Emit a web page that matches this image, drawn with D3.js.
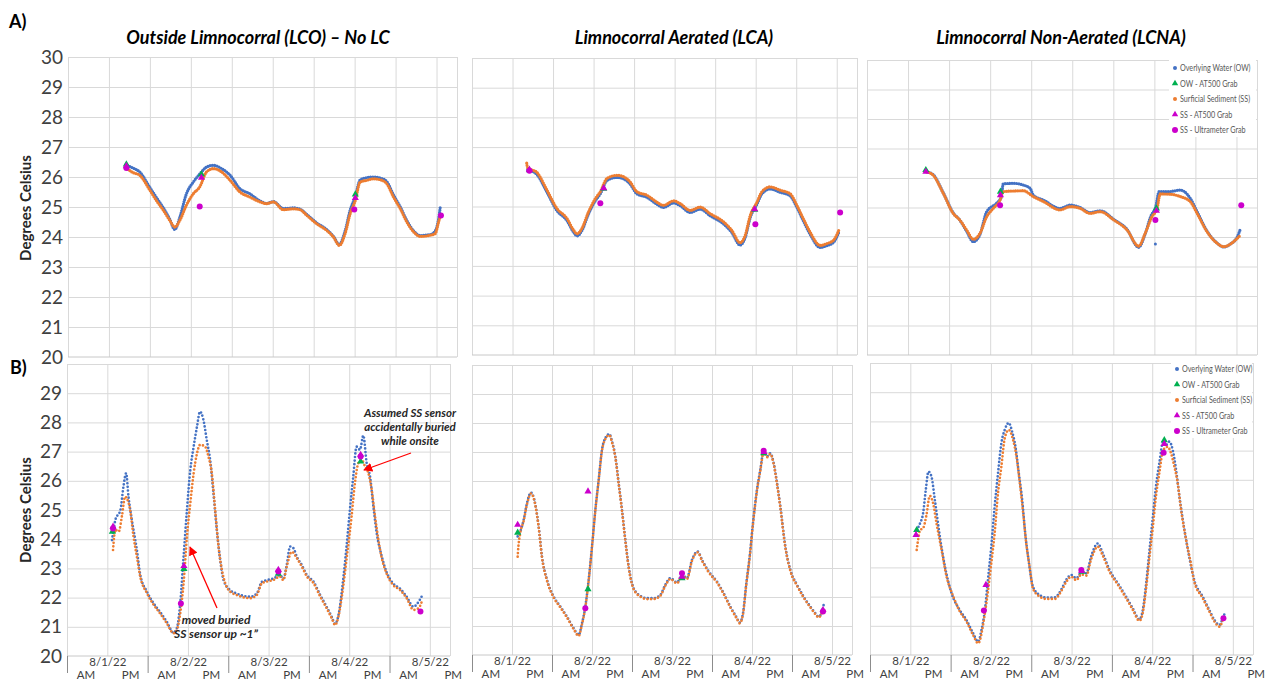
<!DOCTYPE html>
<html>
<head>
<meta charset="utf-8">
<script src="https://cdn.jsdelivr.net/npm/d3@7"></script>
<style>
  body { margin: 0; background: #fff; }
  svg { font-family: Lato, "Open Sans", sans-serif; }
  .grid line { stroke: #d9d9d9; stroke-width: 1; }
  .grid path { display: none; }
</style>
</head>
<body>
<div id="chart"></div>
<script>
// ---- data (hours from 8/1/22 00:00, degrees C) ----
var dayLabels = ["8/1/22", "8/2/22", "8/3/22", "8/4/22", "8/5/22"];
var halfLabels = ["AM", "PM"];
var yTicksTop = [20, 21, 22, 23, 24, 25, 26, 27, 28, 29, 30];
var yTicksBottom = [20, 21, 22, 23, 24, 25, 26, 27, 28, 29];
var panelTitles = ["Outside Limnocorral (LCO) \u2013 No LC", "Limnocorral Aerated (LCA)", "Limnocorral Non-Aerated (LCNA)"];
var legendLabels = ["Overlying Water (OW)", "OW - AT500 Grab", "Surficial Sediment (SS)", "SS - AT500 Grab", "SS - Ultrameter Grab"];

// A) LCO
var a1OW = [[16.9,26.4],[19,26.3],[21,26.17],[24,25.65],[26,25.3],[27.9,24.98],[29.8,24.6],[31.3,24.25],[32.8,24.67],[34.7,25.44],[36.7,25.83],[38.6,26.1],[40.6,26.33],[42.6,26.39],[45,26.28],[47.5,26.06],[50.4,25.61],[53.3,25.44],[56.3,25.2],[58.2,25.12],[60.2,25.18],[63.1,24.95],[66,24.97],[68,24.93],[70,24.75],[72.9,24.47],[75.8,24.25],[77.8,24.02],[79.5,23.75],[81.2,24.2],[82.7,24.9],[84.2,25.35],[85.6,25.9],[87.6,25.98],[89.5,26.0],[92,25.95],[93.4,25.85],[95.4,25.4],[97.4,25.0],[99.3,24.55],[101.3,24.2],[103.2,24.05],[106.2,24.08],[107.6,24.2],[108.6,24.6],[109.1,25.0]];
var a1SS = [[17,26.3],[19,26.15],[21,26.06],[24,25.56],[26,25.2],[27.9,24.9],[29.8,24.56],[31.3,24.33],[32.8,24.56],[34.7,25.06],[36.7,25.44],[38.6,25.67],[40.6,26.17],[42.6,26.28],[45,26.17],[47.5,25.89],[50.4,25.5],[53.3,25.33],[56.3,25.17],[58.2,25.11],[60.2,25.17],[63.1,24.91],[66,24.94],[68,24.91],[70,24.72],[72.9,24.44],[75.8,24.22],[77.8,24.0],[79.5,23.72],[81.2,24.11],[82.7,24.78],[84.2,25.22],[85.6,25.83],[87.6,25.89],[89.5,25.94],[92,25.89],[93.4,25.78],[95.4,25.33],[97.4,24.94],[99.3,24.5],[101.3,24.17],[103.2,24.02],[106.2,24.06],[107.6,24.11],[108.6,24.5],[109.1,24.7]];
var a1OWGrab = [[17.1,26.42],[39.1,26.09],[84.2,25.42]];
var a1SSGrab = [[17.1,26.36],[39.1,25.98],[84.2,25.3]];
var a1Ultra = [[17.1,26.3],[38.6,25.02],[83.9,24.92],[109.3,24.72]];

// A) LCA
var a2OW = [[16.5,26.24],[19.2,26.08],[22.2,25.48],[25.1,24.87],[28.1,24.53],[30.1,24.13],[31.1,24.01],[32.5,24.18],[34.5,24.75],[36.5,25.19],[38,25.43],[40,25.88],[42.9,25.98],[44.9,25.93],[46.8,25.76],[48.8,25.43],[51.8,25.31],[54.7,25.08],[56.7,24.97],[59.7,25.12],[61.6,25.03],[64.6,24.8],[67.6,24.91],[70.5,24.69],[74.5,24.41],[76.9,24.13],[79.4,23.7],[80.9,23.96],[82.4,24.63],[84.4,25.08],[85.8,25.42],[88.3,25.59],[91.2,25.48],[94.2,25.36],[96.2,24.97],[98.1,24.52],[100.1,24.07],[103.1,23.62],[105,23.68],[107,23.79],[108.8,24.18]];
var a2SS = [[16.2,26.46],[16.5,26.3],[19.2,26.15],[22.2,25.55],[25.1,24.94],[28.1,24.6],[30.1,24.2],[31.1,24.08],[32.5,24.25],[34.5,24.82],[36.5,25.26],[38,25.5],[40,25.95],[42.9,26.05],[44.9,26.0],[46.8,25.83],[48.8,25.5],[51.8,25.38],[54.7,25.15],[56.7,25.04],[59.7,25.19],[61.6,25.1],[64.6,24.87],[67.6,24.98],[70.5,24.76],[74.5,24.48],[76.9,24.2],[79.4,23.78],[80.9,24.03],[82.4,24.7],[84.4,25.15],[85.8,25.49],[88.3,25.66],[91.2,25.55],[94.2,25.43],[96.2,25.04],[98.1,24.59],[100.1,24.14],[103.1,23.69],[105,23.75],[107,23.86],[108.8,24.25]];
var a2OWGrab = [[17,26.22],[39,25.6],[83.7,24.89]];
var a2SSGrab = [[17,26.24],[39,25.62],[83.7,24.91]];
var a2Ultra = [[17,26.2],[38,25.11],[83.9,24.4],[109,24.8]];

// A) LCNA
var a3OW = [[17.4,26.21],[19.3,26.12],[22.3,25.5],[25.2,24.82],[27.1,24.58],[29.1,24.2],[31.1,23.84],[33,24.08],[35,24.86],[37.8,25.14],[39.3,25.37],[39.8,25.8],[42.8,25.82],[45.7,25.76],[47.7,25.65],[48.6,25.42],[51.6,25.25],[56.4,24.97],[59.4,25.08],[62.3,25.0],[65.2,24.83],[68.2,24.89],[72.1,24.6],[76,24.26],[79.4,23.65],[81.3,24.1],[82.9,24.69],[84.4,25.03],[85.4,25.54],[88.3,25.54],[91.6,25.59],[94.5,25.31],[96.5,24.86],[99.4,24.2],[102.3,23.8],[104.3,23.66],[106.2,23.76],[108.2,24.0],[109.2,24.29]];
var a3SS = [[17.4,26.21],[19.3,26.1],[22.3,25.48],[25.2,24.8],[27.1,24.58],[29.1,24.24],[31.1,23.92],[33,24.12],[35,24.69],[36.9,24.97],[38.9,25.25],[39.8,25.54],[42.8,25.56],[45.7,25.57],[48.6,25.37],[51.6,25.2],[56.4,24.92],[59.4,25.03],[62.3,24.97],[65.2,24.8],[68.2,24.86],[72.1,24.58],[76,24.24],[79.4,23.69],[81.3,24.12],[83.3,24.69],[84.8,24.97],[85.7,25.46],[88.7,25.45],[91.6,25.37],[94.5,25.2],[96.5,24.8],[99.4,24.18],[102.3,23.79],[104.3,23.67],[106.2,23.76],[108.2,23.95],[109.2,24.07]];
var a3OWOutlier = [[84.3,23.76]];
var a3OWGrab = [[17.2,26.27],[39,25.54],[84.6,24.97]];
var a3SSGrab = [[17.2,26.21],[39,25.42],[84.6,24.89]];
var a3Ultra = [[38.9,25.08],[84.3,24.58],[109.4,25.08]];

// B) LCO
var b1OW = [[13.4,23.97],[14.4,24.66],[15.9,25.0],[16.8,25.8],[17.6,26.26],[18.3,25.46],[19.3,24.66],[20.8,23.63],[21.8,22.78],[23.8,22.2],[25.8,21.8],[27.7,21.51],[29.7,21.17],[31.7,20.8],[32.7,20.95],[33.7,21.8],[34.7,23.4],[35.7,25.0],[36.7,26.37],[37.7,27.17],[38.7,27.86],[39.6,28.37],[40.6,28.09],[41.6,27.4],[42.6,26.72],[43.6,25.57],[44.6,24.32],[45.6,23.29],[46.6,22.6],[48.6,22.25],[50.5,22.14],[52.5,22.06],[54.5,22.03],[56.5,22.14],[58,22.54],[59.5,22.6],[61.4,22.65],[63.4,22.77],[64.4,22.65],[65.4,23.11],[66.4,23.75],[67.4,23.69],[68.4,23.4],[69.9,23.11],[71.4,22.77],[73.4,22.54],[75.4,22.08],[77.3,21.68],[78.8,21.34],[79.8,21.1],[80.8,21.4],[82.3,22.72],[83.3,23.86],[84.2,25.0],[85.2,26.14],[86.2,27.17],[87.2,27.06],[88.2,27.55],[89.2,26.6],[90.2,26.14],[91.2,25.12],[92.2,24.2],[93.6,23.45],[95.1,22.88],[97.1,22.48],[99.1,22.31],[101.1,22.03],[103.1,21.69],[105,21.92],[105.8,22.09]];
var b1SS = [[13.7,23.63],[14.4,24.32],[15.4,24.26],[16.4,24.83],[17.3,25.46],[17.8,25.4],[18.8,25.0],[19.8,24.09],[20.8,23.4],[21.8,22.72],[23.8,22.15],[25.8,21.75],[27.7,21.46],[29.7,21.12],[31.7,20.78],[32.7,20.89],[33.7,21.46],[34.7,22.49],[35.7,24.09],[36.7,25.23],[37.7,26.26],[38.7,26.94],[39.6,27.23],[41.1,27.17],[42.1,26.83],[43.1,26.26],[44.1,25.0],[45.1,23.75],[46.1,22.95],[47.1,22.49],[48.6,22.2],[50.5,22.09],[52.5,22.01],[54.5,21.98],[56.5,22.09],[58,22.49],[59.5,22.55],[61.4,22.6],[63.4,22.72],[64.4,22.6],[65.4,23.06],[66.9,23.57],[68.4,23.35],[69.9,23.06],[71.4,22.72],[73.4,22.49],[75.4,22.03],[77.3,21.63],[78.8,21.29],[79.8,21.06],[80.8,21.35],[81.8,22.03],[83.3,23.4],[84.7,24.77],[85.7,25.92],[86.7,26.6],[87.7,26.72],[88.7,26.49],[89.7,26.26],[90.7,25.69],[91.7,24.77],[92.7,23.97],[93.6,23.4],[95.1,22.83],[97.1,22.43],[99.1,22.26],[101.1,21.98],[103.1,21.58],[104.6,21.63],[105.6,21.86]];
var b1OWGrab = [[13.5,24.26],[34.8,22.98],[62.9,22.82],[87.4,26.66]];
var b1SSGrab = [[13.7,24.43],[34.8,23.08],[62.9,22.95],[87.4,26.89]];
var b1Ultra = [[13.7,24.37],[33.9,21.8],[62.9,22.89],[87.4,26.83],[105.2,21.52]];

// B) LCA
var b2OW = [[13.7,24.09],[14.5,24.26],[15.5,24.66],[16.5,25.24],[17.7,25.6],[18.7,25.35],[20,24.43],[21,23.39],[22.5,22.59],[24.5,22.01],[26.5,21.67],[28.5,21.32],[30.5,20.92],[32,20.69],[33,21.09],[34,21.67],[35,22.59],[36,23.74],[37,25.0],[38,26.04],[39,27.08],[40,27.48],[41.2,27.62],[42,27.36],[43,26.85],[44,25.93],[45,25.0],[46,23.97],[47,23.05],[48.5,22.3],[50.5,22.04],[52.5,21.96],[54.5,21.96],[56.5,22.07],[58,22.42],[59.5,22.65],[61.5,22.5],[63,22.76],[64.5,22.65],[66,23.28],[67.7,23.57],[69,23.28],[71,22.88],[73.5,22.53],[75.5,22.13],[77.5,21.67],[79.5,21.27],[80.3,21.12],[81.3,21.44],[82.3,22.47],[83.3,23.39],[84.3,24.55],[85.5,25.7],[86.5,26.39],[87.5,27.02],[88.5,26.85],[89.5,26.96],[90.5,26.62],[91.5,25.93],[92.5,25.12],[94,23.74],[95.5,22.93],[97.5,22.42],[99.5,22.01],[101.5,21.67],[103,21.44],[104,21.32],[105,21.5],[105.5,21.73]];
var b2SS = [[13.7,23.39],[13.8,23.57],[14.5,24.22],[15.5,24.62],[16.5,25.2],[17.7,25.57],[18.7,25.32],[20,24.4],[21,23.36],[22.5,22.56],[24.5,21.98],[26.5,21.64],[28.5,21.29],[30.5,20.89],[32,20.66],[33,21.06],[34,21.64],[35,22.56],[36,23.71],[37,24.97],[38,26.01],[39,27.05],[40,27.45],[41.2,27.58],[42,27.33],[43,26.82],[44,25.9],[45,24.97],[46,23.94],[47,23.02],[48.5,22.27],[50.5,22.01],[52.5,21.93],[54.5,21.93],[56.5,22.04],[58,22.39],[59.5,22.62],[61.5,22.47],[63,22.73],[64.5,22.62],[66,23.25],[67.7,23.54],[69,23.25],[71,22.85],[73.5,22.5],[75.5,22.1],[77.5,21.64],[79.5,21.24],[80.3,21.09],[81.3,21.41],[82.3,22.44],[83.3,23.36],[84.3,24.52],[85.5,25.67],[86.5,26.36],[87.5,26.99],[88.5,26.82],[89.5,26.93],[90.5,26.59],[91.5,25.9],[92.5,25.09],[94,23.71],[95.5,22.9],[97.5,22.39],[99.5,21.98],[101.5,21.64],[103,21.41],[104,21.29],[105,21.47]];
var b2OWGrab = [[13.7,24.22],[34.8,22.27],[63,22.65],[87.5,26.96]];
var b2SSGrab = [[13.7,24.49],[34.8,25.64],[63,22.7],[87.6,27.0],[105.3,21.55]];
var b2Ultra = [[34,21.61],[63,22.82],[87.5,27.04],[105.3,21.5]];

// B) LCNA
var b3OW = [[13.9,24.28],[14.9,24.51],[15.8,24.85],[16.6,25.65],[17.4,26.28],[18.3,26.11],[19.3,25.31],[20.8,24.05],[22.3,23.03],[24.3,22.11],[26.7,21.54],[28.7,21.2],[30.7,20.74],[32.2,20.46],[33.2,20.86],[34.2,21.54],[35.1,22.57],[36.1,23.71],[37.1,25.08],[38.1,26.22],[39.1,27.25],[40.1,27.71],[41.3,27.95],[42.3,27.65],[43.3,27.13],[44.3,26.22],[45.3,25.31],[46.2,24.17],[47.2,23.25],[48.5,22.34],[50.5,22.05],[52.5,21.97],[55,21.97],[56.9,22.23],[58.4,22.57],[59.9,22.74],[61.4,22.63],[62.9,22.82],[64.4,22.8],[65.8,23.37],[67.8,23.82],[69.3,23.48],[71.3,22.91],[73.8,22.45],[76.2,22.0],[78.2,21.6],[80.2,21.22],[81.2,21.54],[82.2,22.45],[83.2,23.6],[84.2,24.74],[85.1,25.76],[86.1,26.56],[87.3,27.32],[88.1,27.19],[89.1,27.31],[90.1,27.02],[91.1,26.34],[92.1,25.42],[93.6,24.28],[95,23.37],[96.5,22.57],[99,22.0],[101,21.54],[102.5,21.2],[104,21.03],[105,21.26],[105.6,21.43]];
var b3SS = [[13.9,23.6],[14.4,24.0],[14.9,24.28],[15.8,24.34],[16.8,24.79],[17.8,25.45],[18.8,25.19],[19.8,24.51],[21.3,23.6],[22.8,22.68],[24.8,22.0],[26.7,21.5],[28.7,21.15],[30.7,20.68],[32.2,20.4],[34.2,21.43],[36.1,23.14],[37.1,24.17],[38.1,25.54],[39.1,26.45],[40.1,27.42],[41.3,27.71],[42.6,27.36],[43.6,26.79],[44.6,25.88],[45.6,24.85],[46.5,23.82],[47.5,23.03],[48.5,22.28],[50.5,22.0],[52.5,21.92],[55,21.92],[56.9,22.18],[58.4,22.5],[59.9,22.68],[61.4,22.56],[62.9,22.76],[64.4,22.72],[65.8,23.27],[67.8,23.71],[69.3,23.4],[71.3,22.85],[73.8,22.4],[76.2,21.95],[78.2,21.55],[80.2,21.17],[81.2,21.45],[82.2,22.3],[83.2,23.37],[84.2,24.39],[85.1,25.42],[86.1,26.22],[87.3,27.02],[88.6,27.13],[89.6,26.91],[90.6,26.45],[91.6,25.88],[92.6,24.97],[94.1,23.94],[95.5,23.14],[96.5,22.52],[99,21.95],[101,21.49],[102.5,21.15],[104,20.97],[105,21.2]];
var b3OWGrab = [[13.9,24.28],[63.2,22.85],[87.6,27.36]];
var b3SSGrab = [[13.7,24.11],[34.5,22.4],[63,22.88],[87.6,27.23]];
var b3Ultra = [[33.9,21.52],[62.9,22.91],[87.4,26.93],[105.2,21.26]];

// ---- layout ----
var W = 1271, H = 681;
var blue = "#4472c4", orange = "#ed7d31", green = "#00b050", magenta = "#cc00cc";

var panels = [
  {l: 68,  t: 57,  r: 457,  b: 357, ow: a1OW, ss: a1SS, owg: a1OWGrab, ssg: a1SSGrab, ul: a1Ultra, yt: yTicksTop, yLab: true, xAxis: false, tight: true},
  {l: 472, t: 58,  r: 857,  b: 355, ow: a2OW, ss: a2SS, owg: a2OWGrab, ssg: a2SSGrab, ul: a2Ultra, yt: yTicksTop, yLab: false, xAxis: false, tight: true},
  {l: 867, t: 60,  r: 1257, b: 355, ow: a3OW, ss: a3SS, owg: a3OWGrab, ssg: a3SSGrab, ul: a3Ultra, yt: yTicksTop, yLab: false, xAxis: false, tight: true, legend: [1175, 68], extra: a3OWOutlier},
  {l: 67,  t: 364, r: 450,  b: 656, ow: b1OW, ss: b1SS, owg: b1OWGrab, ssg: b1SSGrab, ul: b1Ultra, yt: yTicksBottom, yLab: true, xAxis: true},
  {l: 472, t: 365, r: 852,  b: 655, ow: b2OW, ss: b2SS, owg: b2OWGrab, ssg: b2SSGrab, ul: b2Ultra, yt: yTicksBottom, yLab: false, xAxis: true},
  {l: 870, t: 363, r: 1253, b: 655, ow: b3OW, ss: b3SS, owg: b3OWGrab, ssg: b3SSGrab, ul: b3Ultra, yt: yTicksBottom, yLab: false, xAxis: true, legend: [1177, 369]}
];

var svg = d3.select("#chart").append("svg")
    .attr("width", W)
    .attr("height", H);

svg.append("rect").attr("width", W).attr("height", H).attr("fill", "#fff");

var tri = d3.symbol().type(d3.symbolTriangle).size(22);

panels.forEach(function(p) {
  var x = d3.scaleLinear().domain([0, 114]).range([p.l, p.r]);
  var y = d3.scaleLinear().domain([20, 30]).range([p.b, p.t]);
  var g = svg.append("g");

  // gridlines
  g.append("g").attr("class", "grid")
      .attr("transform", "translate(" + p.l + ",0)")
      .call(d3.axisLeft(y).tickValues(d3.range(21, 31)).tickSize(-(p.r - p.l)).tickFormat(""));
  g.append("g").attr("class", "grid")
      .attr("transform", "translate(0," + p.b + ")")
      .call(d3.axisBottom(x).tickValues([0, 12, 24, 36, 48, 60, 72, 84, 96, 108, 114]).tickSize(-(p.b - p.t)).tickFormat(""));
  g.append("line")
      .attr("x1", p.l).attr("x2", p.r).attr("y1", y(20)).attr("y2", y(20))
      .attr("stroke", "#c8c8c8");

  // y labels
  if (p.yLab) {
    var ya = g.append("g")
        .attr("transform", "translate(" + (p.l - 5) + ",0)")
        .call(d3.axisLeft(y).tickValues(p.yt).tickSize(0).tickPadding(0));
    ya.select(".domain").remove();
    ya.selectAll("text")
        .attr("fill", "#404040")
        .style("font-size", "19px")
        .style("font-family", "Lato, sans-serif");
  }

  // category axis
  if (p.xAxis) {
    var sep = g.append("g")
        .attr("transform", "translate(0," + p.b + ")")
        .call(d3.axisBottom(x).tickValues([0, 24, 48, 72, 96]).tickSize(17).tickFormat(""));
    sep.select(".domain").remove();
    sep.selectAll("line").attr("stroke", "#8c8c8c");

    var dates = g.append("g")
        .attr("transform", "translate(0," + (p.b + 10) + ")")
        .call(d3.axisBottom(x).tickValues([12, 36, 60, 84, 108]).tickSize(0).tickPadding(0)
          .tickFormat(function(d, i) { return dayLabels[i]; }));
    dates.select(".domain").remove();
    dates.selectAll("text").attr("dy", 0).attr("fill", "#404040")
        .style("font-size", "11.5px").style("font-family", "Lato, sans-serif");

    var halfTicks = [];
    dayLabels.forEach(function(d, i) { halfTicks.push(i * 24 + 5.5, i * 24 + 18.8); });
    var halves = g.append("g")
        .attr("transform", "translate(0," + (p.b + 23) + ")")
        .call(d3.axisBottom(x).tickValues(halfTicks).tickSize(0).tickPadding(0)
          .tickFormat(function(d, i) { return halfLabels[i % 2]; }));
    halves.select(".domain").remove();
    halves.selectAll("text").attr("dy", 0).attr("fill", "#404040")
        .style("font-size", "11.5px").style("font-family", "Lato, sans-serif");
  }

  // series
  var line = d3.line()
      .x(function(d) { return x(d[0]); })
      .y(function(d) { return y(d[1]); })
      .curve(d3.curveMonotoneX);

  var sw = p.tight ? 3.2 : 2.7;
  var dash = p.tight ? "0,2.3" : "0,3.6";

  g.append("path").datum(p.ow)
      .attr("d", line).attr("fill", "none")
      .attr("stroke", blue).attr("stroke-width", sw)
      .attr("stroke-linecap", "round").attr("stroke-dasharray", dash);

  if (p.extra) {
    g.selectAll(".extra").data(p.extra).enter().append("circle")
        .attr("cx", function(d) { return x(d[0]); })
        .attr("cy", function(d) { return y(d[1]); })
        .attr("r", 1.5).attr("fill", blue);
  }

  g.append("path").datum(p.ss)
      .attr("d", line).attr("fill", "none")
      .attr("stroke", orange).attr("stroke-width", sw)
      .attr("stroke-linecap", "round").attr("stroke-dasharray", dash);

  // grabs
  g.selectAll(".owg").data(p.owg).enter().append("path")
      .attr("d", tri)
      .attr("transform", function(d) { return "translate(" + x(d[0]) + "," + y(d[1]) + ")"; })
      .attr("fill", green);
  g.selectAll(".ssg").data(p.ssg).enter().append("path")
      .attr("d", tri)
      .attr("transform", function(d) { return "translate(" + x(d[0]) + "," + y(d[1]) + ")"; })
      .attr("fill", magenta);
  g.selectAll(".ul").data(p.ul).enter().append("circle")
      .attr("cx", function(d) { return x(d[0]); })
      .attr("cy", function(d) { return y(d[1]); })
      .attr("r", 3).attr("fill", magenta);

  // legend
  if (p.legend) {
    var lx = p.legend[0], ly = p.legend[1];
    g.append("rect")
        .attr("x", lx - 6).attr("y", ly - 9)
        .attr("width", p.r - lx + 5).attr("height", 78)
        .attr("fill", "#fff");
    var leg = g.selectAll(".leg").data(legendLabels).enter().append("g")
        .attr("transform", function(d, i) { return "translate(" + lx + "," + (ly + i * 15.5) + ")"; });
    leg.each(function(d, i) {
      var e = d3.select(this);
      if (i === 1 || i === 3) {
        e.append("path").attr("d", d3.symbol().type(d3.symbolTriangle).size(18))
            .attr("fill", i === 1 ? green : magenta);
      } else {
        e.append("circle").attr("r", i === 4 ? 3 : 2)
            .attr("fill", i === 0 ? blue : (i === 2 ? orange : magenta));
      }
    });
    leg.append("text")
        .attr("x", 5).attr("y", 3.2)
        .attr("fill", "#595959")
        .style("font-size", "9px")
        .text(function(d) { return d; })
        .each(function() {
          // squeeze to the narrow legend face of the original
          var len = this.getComputedTextLength();
          d3.select(this).attr("textLength", len * 0.8).attr("lengthAdjust", "spacingAndGlyphs");
        });
  }
});

// titles
var titleX = [258, 674, 1061];
svg.selectAll(".title").data(panelTitles).enter().append("text")
    .attr("x", function(d, i) { return titleX[i]; })
    .attr("y", 44)
    .attr("text-anchor", "middle")
    .style("font-size", "18px")
    .style("font-weight", "bold")
    .style("font-style", "italic")
    .attr("fill", "#000")
    .text(function(d) { return d; });

// row labels
svg.append("text").attr("x", 9).attr("y", 28)
    .style("font-size", "18px").style("font-weight", "bold").text("A)");
svg.append("text").attr("x", 10).attr("y", 374)
    .style("font-size", "18px").style("font-weight", "bold").text("B)");

// y axis titles
[208, 510].forEach(function(cy) {
  svg.append("text")
      .attr("transform", "translate(31," + cy + ") rotate(-90)")
      .attr("text-anchor", "middle")
      .style("font-size", "15px")
      .style("font-weight", "bold")
      .attr("fill", "#262626")
      .text("Degrees Celsius");
});

// annotations
var defs = svg.append("defs");
defs.append("marker")
    .attr("id", "arrow")
    .attr("viewBox", "0 0 10 10")
    .attr("refX", 9).attr("refY", 5)
    .attr("markerWidth", 7).attr("markerHeight", 7)
    .attr("orient", "auto")
  .append("path").attr("d", "M0,0L10,5L0,10z").attr("fill", "#ff0000");

svg.append("line")
    .attr("x1", 217).attr("y1", 608).attr("x2", 190).attr("y2", 547)
    .attr("stroke", "#ff0000").attr("stroke-width", 1.3)
    .attr("marker-end", "url(#arrow)");
svg.append("line")
    .attr("x1", 411).attr("y1", 453).attr("x2", 364).attr("y2", 470)
    .attr("stroke", "#ff0000").attr("stroke-width", 1.3)
    .attr("marker-end", "url(#arrow)");

var note1 = ["moved buried", "SS sensor up ~1\u201d"];
var note2 = ["Assumed SS sensor", "accidentally buried", "while onsite"];
svg.selectAll(".n1").data(note1).enter().append("text")
    .attr("x", 216).attr("y", function(d, i) { return 624 + i * 14; })
    .attr("text-anchor", "middle")
    .style("font-size", "12px").style("font-weight", "bold").style("font-style", "italic")
    .attr("fill", "#262626")
    .text(function(d) { return d; });
svg.selectAll(".n2").data(note2).enter().append("text")
    .attr("x", 410).attr("y", function(d, i) { return 417 + i * 14; })
    .attr("text-anchor", "middle")
    .style("font-size", "11.5px").style("font-weight", "bold").style("font-style", "italic")
    .attr("fill", "#262626")
    .text(function(d) { return d; });
</script>
</body>
</html>
